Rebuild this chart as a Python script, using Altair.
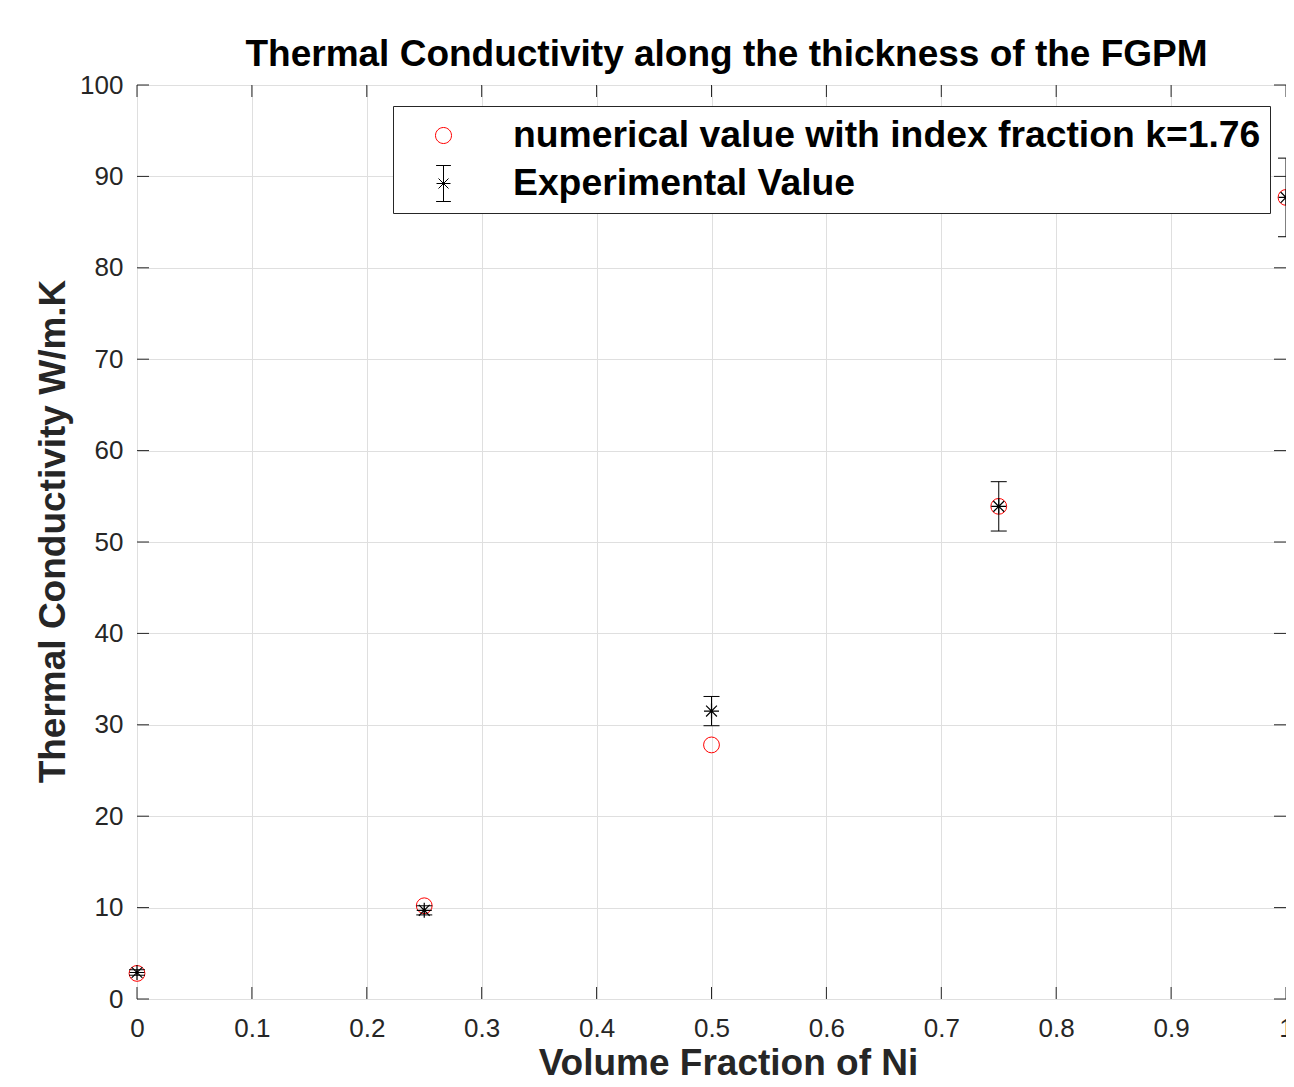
import altair as alt
import pandas as pd

# ---- data ----
x_frac = [0.0, 0.25, 0.5, 0.75, 1.0]
numerical = [2.8, 10.2, 27.8, 53.9, 87.7]
experimental = [2.9, 9.7, 31.5, 53.9, 87.7]
exp_error = [0.3, 0.5, 1.6, 2.7, 4.3]

series_names = ["numerical value with index fraction k=1.76", "Experimental Value"]
x_ticks = [0.0, 0.1, 0.2, 0.3, 0.4, 0.5, 0.6, 0.7, 0.8, 0.9, 1.0]
y_ticks = [0, 10, 20, 30, 40, 50, 60, 70, 80, 90, 100]

FONT = "Liberation Sans"
AX = "#262626"
W, H = 1149, 914
TICK = 12

df = pd.DataFrame({
    "x": x_frac,
    "num": numerical,
    "exp": experimental,
    "lo": [e - d for e, d in zip(experimental, exp_error)],
    "hi": [e + d for e, d in zip(experimental, exp_error)],
})
xt = pd.DataFrame({"t": x_ticks})
yt = pd.DataFrame({"t": y_ticks})
leg_df = pd.DataFrame({"series": series_names, "x": [None, None], "y": [None, None]})

xs = alt.Scale(domain=[0, 1], nice=False, zero=False)
ys = alt.Scale(domain=[0, 100], nice=False, zero=False)

x_axis = alt.Axis(values=x_ticks, format=".1~f", grid=True, ticks=False, domain=False,
                  labelFlush=False, labelPadding=16, titleBaseline="alphabetic",
                  titleY=75, titleX=591)
y_axis = alt.Axis(values=y_ticks, grid=True, ticks=False, domain=False, labelFlush=False,
                  labelPadding=14, titleBaseline="alphabetic", titleX=-73,
                  titleY=446, titleAngle=-90, titleAlign="center")

base = alt.Chart(df)

circles = base.mark_point(shape="circle", filled=False, color="#ff0000", size=250,
                          strokeWidth=1, opacity=1).encode(
    x=alt.X("x:Q", scale=xs, title="Volume Fraction of Ni", axis=x_axis),
    y=alt.Y("num:Q", scale=ys, title="Thermal Conductivity W/m.K", axis=y_axis))

rules = base.mark_rule(color="black", strokeWidth=1).encode(
    x=alt.X("x:Q", scale=xs), y=alt.Y("lo:Q", scale=ys), y2="hi:Q")
cap_lo = base.mark_tick(orient="horizontal", size=16, thickness=1, color="black", opacity=1).encode(
    x=alt.X("x:Q", scale=xs), y=alt.Y("lo:Q", scale=ys))
cap_hi = base.mark_tick(orient="horizontal", size=16, thickness=1, color="black", opacity=1).encode(
    x=alt.X("x:Q", scale=xs), y=alt.Y("hi:Q", scale=ys))

ASTER = "M-1,0L1,0M0,-1L0,1M-0.72,-0.72L0.72,0.72M-0.72,0.72L0.72,-0.72"
stars = base.mark_point(shape=ASTER, filled=False, color="black", size=225,
                        strokeWidth=1.2, opacity=1).encode(
    x=alt.X("x:Q", scale=xs), y=alt.Y("exp:Q", scale=ys))

# inner ticks (MATLAB style, on all four sides)
bt = alt.Chart(xt).mark_rule(color=AX, strokeWidth=1).encode(
    x=alt.X("t:Q", scale=xs), y=alt.value(H), y2=alt.value(H - TICK))
tt = alt.Chart(xt).mark_rule(color=AX, strokeWidth=1).encode(
    x=alt.X("t:Q", scale=xs), y=alt.value(0), y2=alt.value(TICK))
lt = alt.Chart(yt).mark_rule(color=AX, strokeWidth=1).encode(
    y=alt.Y("t:Q", scale=ys), x=alt.value(0), x2=alt.value(TICK))
rt = alt.Chart(yt).mark_rule(color=AX, strokeWidth=1).encode(
    y=alt.Y("t:Q", scale=ys), x=alt.value(W - TICK), x2=alt.value(W))

# legend (symbols drawn from the scales' custom paths)
LEG_CIRCLE = "M0.65,0A0.4,0.4,0,1,1,1.45,0A0.4,0.4,0,1,1,0.65,0Z"
LEG_ERR = ("M1.05,-0.9L1.05,0.9M0.68,-0.9L1.42,-0.9M0.68,0.9L1.42,0.9"
           "M0.7,0L1.4,0M0.8,-0.25L1.3,0.25M0.8,0.25L1.3,-0.25")
legend = alt.Legend(title=None, orient="none", legendX=256, legendY=21, padding=9,
                    strokeColor=AX, fillColor="white", labelFont=FONT, labelFontSize=37.3,
                    labelFontWeight="bold", labelColor="black", labelLimit=2000,
                    labelOffset=70, rowPadding=9, symbolSize=1600, symbolStrokeWidth=1,
                    labelBaseline="middle", cornerRadius=0)
leg = alt.Chart(leg_df).mark_point(filled=False, strokeWidth=1, opacity=1).encode(
    x=alt.X("x:Q", scale=xs),
    y=alt.Y("y:Q", scale=ys),
    color=alt.Color("series:N", scale=alt.Scale(domain=series_names, range=["#ff0000", "#000000"]),
                    legend=legend),
    shape=alt.Shape("series:N", scale=alt.Scale(domain=series_names, range=[LEG_CIRCLE, LEG_ERR]),
                    legend=legend),
)

chart = alt.layer(circles, rules, cap_lo, cap_hi, stars, bt, tt, lt, rt, leg).properties(
    width=W, height=H,
    autosize=alt.AutoSizeParams(type="none"),
    padding={"left": 129, "top": 77, "right": 0, "bottom": 80},
    title=alt.Title("Thermal Conductivity along the thickness of the FGPM", font=FONT,
                    fontSize=37, fontWeight="bold", color="black", anchor="middle",
                    frame="group", dx=15, dy=49, offset=18, baseline="alphabetic"),
    background="white",
).configure_view(stroke=AX, strokeWidth=1).configure_axis(
    labelFont=FONT, labelFontSize=26, labelColor=AX, titleFont=FONT, titleFontSize=37,
    titleFontWeight="bold", titleColor=AX, gridColor="#dfdfdf", gridWidth=1,
)

chart.save("out.html", embed_options={"renderer": "svg", "actions": False})
